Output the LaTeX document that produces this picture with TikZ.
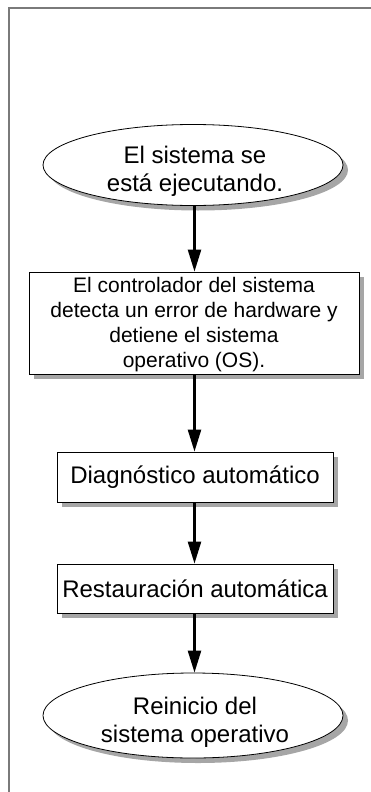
\documentclass[tikz,border=0pt]{standalone}
\usepackage{fontspec}
\setmainfont{Liberation Sans}
\usetikzlibrary{shapes.geometric,arrows.meta,shadows}
\begin{document}
\begin{tikzpicture}[x=1pt,y=-1pt,
  shad/.style={drop shadow={shadow xshift=5pt,shadow yshift=-5pt,fill=black!35,opacity=1}},
  oval/.style={ellipse,draw,line width=0.8pt,fill=white,minimum width=300pt,inner sep=0pt,shad},
  boxn/.style={rectangle,draw,line width=0.8pt,fill=white,inner sep=0pt,shad},
  big/.style={font=\fontsize{24}{28}\selectfont,align=center},
  small/.style={font=\fontsize{21}{25}\selectfont,align=center},
  conn/.style={line width=2.4pt,-{Triangle[length=22pt,width=13pt]}}
]
\useasboundingbox (0,0) rectangle (371,792);
\draw[line width=2pt, black!52] (371,8) -- (9,8) -- (9,792);
\node[oval,minimum height=81pt] (e1) at (193,165) {};
\node[big] (t1) at (195,171) {El sistema se\\está ejecutando.};
\node[boxn,minimum width=330pt,minimum height=102pt] (b1) at (194,323) {};
\node[small] (t2) at (194,325) {El controlador del sistema\\detecta un error de hardware y\\detiene el sistema\\operativo (OS).};
\node[boxn,minimum width=276pt,minimum height=50pt,big] (b2) at (195,477) {Diagnóstico automático};
\node[boxn,minimum width=276pt,minimum height=49pt,big] (b3) at (195,588.5) {Restauración automática};
\node[oval,minimum height=85pt] (e2) at (193,715.5) {};
\node[big] (t3) at (195,722) {Reinicio del\\sistema operativo};
\coordinate (ax) at (194.5,0);
\draw[conn] (ax |- e1.south) -- (ax |- b1.north);
\draw[conn] (ax |- b1.south) -- (ax |- b2.north);
\draw[conn] (ax |- b2.south) -- (ax |- b3.north);
\draw[conn] (ax |- b3.south) -- (ax |- e2.north);
\end{tikzpicture}
\end{document}
